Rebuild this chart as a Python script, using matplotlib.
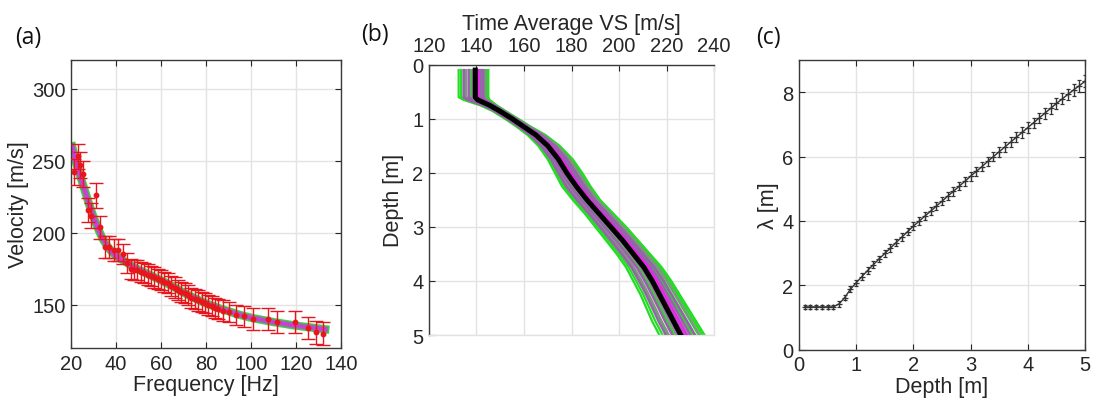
import numpy as np
import matplotlib
matplotlib.use("Agg")
import matplotlib.pyplot as plt

plt.rcParams['font.family'] = ['Liberation Sans', 'DejaVu Sans']

# ---------------- Panel (a): dispersion data ----------------
freq = [21.5, 23.0, 24.0, 25.5, 27.5, 29.0, 31.0, 33.0, 35.0, 37.0,
        39.0, 41.0, 43.0, 45.0, 46.5, 48.0, 49.5, 51.0, 52.5, 54.0,
        55.5, 57.0, 58.5, 60.0, 61.5, 63.0, 64.5, 66.0, 67.5, 69.0,
        70.5, 72.0, 73.5, 75.0, 76.5, 78.0, 79.5, 81.0, 82.5, 84.0,
        85.5, 87.5, 90.0, 93.5, 97.0, 101.0, 107.5, 111.5, 119.5, 125.5,
        129.0, 132.0]
vel = [242, 253, 247, 241, 216, 212, 226, 204, 190, 190,
       188, 188, 185, 179, 175, 174, 174, 173, 172, 171,
       170, 169, 168, 167, 166, 165, 163, 162, 160, 159,
       158, 157, 155, 154, 153, 152, 151, 150, 149, 148,
       147, 146, 145, 143, 142, 140, 140, 138, 138, 134,
       131, 130]
vel_err = [9, 9, 9, 9, 8.5, 8.5, 8.5, 8, 7.5, 7.5,
           7.5, 7.5, 7, 7, 7, 7, 7, 7, 7, 7,
           7, 7, 7, 7, 7, 7, 7, 7, 7, 7,
           7, 7, 7, 7, 7, 7, 7, 7, 7, 7,
           7, 7, 7, 7, 7.5, 7.5, 7.5, 7.5, 7.5, 7.5,
           8, 8]
fit_freq = [20.5, 22, 24, 26, 28, 30, 32, 34, 36, 38, 40, 42, 45, 48, 52,
            56, 60, 65, 70, 75, 80, 85, 90, 95, 100, 110, 120, 133]
fit_vel = [260, 250, 240, 230, 220, 211, 203, 196, 191, 187, 184, 182, 179,
           176, 173, 170, 167, 163, 158.5, 154.5, 151, 148, 145.5, 143, 141,
           138, 135.5, 133]

# ---------------- Panel (b): time-average Vs profiles ----------------
depth_b = [0.1, 0.6, 0.65, 0.7, 0.75, 0.85, 1.0, 1.15, 1.3, 1.5, 1.75, 2.0,
           2.25, 2.5, 2.75, 3.0, 3.25, 3.5, 3.75, 4.0, 4.25, 4.5, 4.75, 5.0]
vs_median = [139.5, 139.5, 140.5, 143, 145.5, 149.5, 155, 160, 165, 170,
             174.5, 178, 182, 186.5, 191.5, 196.5, 201.5, 206, 210.5, 214,
             217, 220, 223, 226]
spread_lo = [7, 7, 6, 5, 4, 3, 3, 3, 3.5, 4, 4.5, 5, 6, 6, 6, 6.5, 7, 7,
             7.5, 8, 8, 8.5, 9, 9]
spread_hi = [5.5, 5.5, 5, 4, 3, 2.5, 2.5, 3, 4, 5, 6, 6.5, 6, 5.5, 6, 6.5,
             6.5, 7, 7.5, 8, 8.5, 9, 9.5, 10]
green_shift = [-1.0, -0.85, -0.6, -0.3, 0.5, 0.75, 0.9, 1.0]
gray_shift = [-0.55, -0.2, 0.3, 0.6, 0.8]
purple_shift = [-0.7, -0.4, -0.1, 0.15, 0.4, 0.6]
magenta_shift = [0.1, 0.25]

# ---------------- Panel (c): wavelength vs depth ----------------
depth_c = [0.1, 0.2, 0.3, 0.4, 0.5, 0.6, 0.7, 0.8, 0.9, 1.0,
           1.1, 1.2, 1.3, 1.4, 1.5, 1.6, 1.7, 1.8, 1.9, 2.0,
           2.1, 2.2, 2.3, 2.4, 2.5, 2.6, 2.7, 2.8, 2.9, 3.0,
           3.1, 3.2, 3.3, 3.4, 3.5, 3.6, 3.7, 3.8, 3.9, 4.0,
           4.1, 4.2, 4.3, 4.4, 4.5, 4.6, 4.7, 4.8, 4.9, 5.0]
lam = [1.33, 1.33, 1.33, 1.33, 1.33, 1.33, 1.42, 1.62, 1.88, 2.08,
       2.27, 2.46, 2.64, 2.82, 2.99, 3.16, 3.33, 3.5, 3.67, 3.84,
       3.99, 4.15, 4.3, 4.46, 4.61, 4.77, 4.92, 5.08, 5.23, 5.39,
       5.54, 5.69, 5.85, 6.0, 6.15, 6.3, 6.45, 6.6, 6.75, 6.9,
       7.05, 7.2, 7.35, 7.5, 7.65, 7.79, 7.93, 8.07, 8.2, 8.34]
lam_err = [0.07, 0.07, 0.07, 0.07, 0.07, 0.07, 0.08, 0.08, 0.09, 0.09,
           0.1, 0.1, 0.1, 0.1, 0.11, 0.11, 0.11, 0.11, 0.12, 0.12,
           0.12, 0.12, 0.12, 0.13, 0.13, 0.13, 0.13, 0.13, 0.14, 0.14,
           0.14, 0.14, 0.14, 0.15, 0.15, 0.15, 0.15, 0.15, 0.16, 0.16,
           0.16, 0.16, 0.17, 0.17, 0.17, 0.17, 0.18, 0.18, 0.18, 0.18]

TXT = '#262626'
GRID = '#e3e3e3'
FS_TICK = 14.5
FS_LAB = 15.5

fig = plt.figure(figsize=(10.94, 4.06), dpi=100)

def style(ax, box=True):
    ax.grid(True, color=GRID, lw=1.0)
    ax.set_axisbelow(True)
    ax.tick_params(direction='in', length=4, width=0.8, colors=TXT,
                   labelsize=FS_TICK, top=box, right=box, pad=4)
    for s in ax.spines.values():
        s.set_color('#3a3a3a')
        s.set_linewidth(1.0)

# (a)
ax1 = fig.add_axes([0.0649, 0.1404, 0.2468, 0.7094])
ax1.plot(fit_freq, fit_vel, color='#33dd33', lw=6.0, zorder=2)
ax1.plot(fit_freq, fit_vel, color='#8a8a8a', lw=4.5, zorder=2)
ax1.plot(fit_freq, fit_vel, color='#a060b8', lw=3.5, zorder=2)
ax1.plot(fit_freq, fit_vel, color='#e030e0', lw=1.4, zorder=2)
ax1.errorbar(freq, vel, yerr=vel_err, fmt='o', ms=3.2, color='#e8161c',
             ecolor='#e8161c', elinewidth=1.0, capsize=4.8, capthick=1.0,
             zorder=3)
ax1.set_xlim(20, 140)
ax1.set_ylim(120, 320)
ax1.set_xticks([20, 40, 60, 80, 100, 120, 140])
ax1.set_yticks([150, 200, 250, 300])
style(ax1)
ax1.set_xlabel('Frequency [Hz]', fontsize=FS_LAB, color=TXT, labelpad=1)
ax1.set_ylabel('Velocity [m/s]', fontsize=FS_LAB, color=TXT, labelpad=2)

# (b)
ax2 = fig.add_axes([0.3921, 0.1724, 0.2606, 0.6658])
med = np.array(vs_median)
slo = np.array(spread_lo)
shi = np.array(spread_hi)

def member(k):
    return med + (k * shi if k > 0 else k * slo)

for k in green_shift:
    ax2.plot(member(k), depth_b, color='#22dd22', lw=1.6, zorder=2)
for k in gray_shift:
    ax2.plot(member(k), depth_b, color='#8c8c8c', lw=1.4, zorder=3)
for k in purple_shift:
    ax2.plot(member(k), depth_b, color='#9c5fb0', lw=1.8, zorder=4)
for k in magenta_shift:
    ax2.plot(member(k), depth_b, color='#ee22ee', lw=1.6, zorder=5)
ax2.plot(vs_median, depth_b, color='black', lw=3.6, zorder=6)
ax2.set_xlim(120, 240)
ax2.set_ylim(5, 0)
ax2.set_xticks([120, 140, 160, 180, 200, 220, 240])
ax2.set_yticks([0, 1, 2, 3, 4, 5])
style(ax2, box=False)
ax2.xaxis.tick_top()
ax2.xaxis.set_label_position('top')
ax2.tick_params(axis='x', direction='in', top=True, bottom=False, labeltop=True,
                labelbottom=False, pad=7)
ax2.spines['right'].set_color(GRID)
ax2.spines['bottom'].set_color(GRID)
ax2.set_xlabel('Time Average VS [m/s]', fontsize=FS_LAB, color=TXT, labelpad=5)
ax2.set_ylabel('Depth [m]', fontsize=FS_LAB, color=TXT, labelpad=6)

# (c)
ax3 = fig.add_axes([0.7303, 0.1362, 0.2615, 0.7136])
ax3.errorbar(depth_c, lam, yerr=lam_err, fmt='-+', color='#333333', lw=1.0,
             ms=5, mew=0.9, elinewidth=0.9, capsize=1.5, capthick=0.8, zorder=3)
ax3.set_xlim(0, 5)
ax3.set_ylim(0, 9)
ax3.set_xticks([0, 1, 2, 3, 4, 5])
ax3.set_yticks([0, 2, 4, 6, 8])
style(ax3)
ax3.set_xlabel('Depth [m]', fontsize=FS_LAB, color=TXT, labelpad=1)
ax3.set_ylabel('λ [m]', fontsize=FS_LAB, color=TXT, labelpad=2)

# panel letters
for x, y, t in [(15, 38, '(a)'), (361, 35, '(b)'), (756, 38, '(c)')]:
    fig.text(x / 1094, 1 - y / 406, t, fontsize=16.5, color='#111111',
             family=['Open Sans', 'DejaVu Sans'], ha='left', va='center')

fig.savefig('out.png', dpi=100)
